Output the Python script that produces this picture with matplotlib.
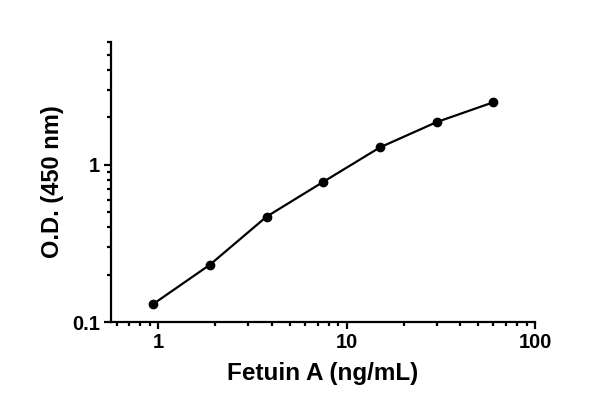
import matplotlib
matplotlib.use("Agg")
from matplotlib import pyplot as plt
from matplotlib.ticker import LogLocator, NullFormatter, FixedLocator, FixedFormatter

# Fetuin A standard curve
conc = [0.9375, 1.875, 3.75, 7.5, 15, 30, 60]
od = [0.130, 0.231, 0.467, 0.777, 1.287, 1.863, 2.49]

x_ticks = [1, 10, 100]
x_ticklabels = ["1", "10", "100"]
y_ticks = [0.1, 1]
y_ticklabels = ["0.1", "1"]

plt.rcParams['font.family'] = ['Liberation Sans', 'DejaVu Sans']
plt.rcParams['font.weight'] = 'bold'

f = plt.figure(figsize=(6.0, 4.09), dpi=100)
ax = f.add_axes([0.185, 0.2127, 0.707, 0.6843])

ax.plot(conc, od, color='k', lw=1.6, marker='o', ms=6, clip_on=False)

ax.set_xscale('log')
ax.set_yscale('log')
ax.set_xlim(0.56, 100)
ax.set_ylim(0.1, 6.0)

ax.xaxis.set_major_locator(FixedLocator(x_ticks))
ax.xaxis.set_major_formatter(FixedFormatter(x_ticklabels))
ax.xaxis.set_minor_locator(LogLocator(base=10, subs=range(2, 10)))
ax.xaxis.set_minor_formatter(NullFormatter())
ax.yaxis.set_major_locator(FixedLocator(y_ticks))
ax.yaxis.set_major_formatter(FixedFormatter(y_ticklabels))
ax.yaxis.set_minor_locator(LogLocator(base=10, subs=range(2, 10)))
ax.yaxis.set_minor_formatter(NullFormatter())

for s in ['top', 'right']:
    ax.spines[s].set_visible(False)
for s in ['left', 'bottom']:
    ax.spines[s].set_linewidth(1.6)

ax.tick_params(which='major', length=5, width=1.6, labelsize=14.5, pad=3)
ax.tick_params(which='minor', length=3, width=1.6)
for lab in ax.get_xticklabels() + ax.get_yticklabels():
    lab.set_fontweight('bold')

ax.set_xlabel("Fetuin A (ng/mL)", fontsize=17.5, fontweight='bold', labelpad=7)
ax.set_ylabel("O.D. (450 nm)", fontsize=17, fontweight='bold', labelpad=6)

f.savefig("out.png", dpi=100)
